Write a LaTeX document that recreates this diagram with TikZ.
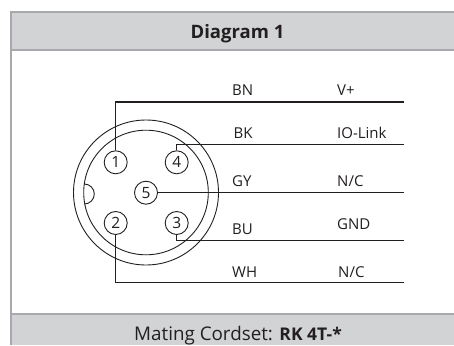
\documentclass[tikz,border=0pt]{standalone}
\usepackage{fontspec}
\setmainfont{Open Sans}
\definecolor{band}{HTML}{D1D3D4}
\definecolor{edge}{HTML}{A7A9AC}
\definecolor{ink}{HTML}{231F20}
\tikzset{
  wire/.style={draw=ink,line width=1.1pt},
  ring/.style={draw=ink,line width=0.9pt},
  pin/.style={circle,draw=ink,line width=0.9pt,minimum size=23pt,inner sep=0pt,fill=none,font=\fontsize{15.5}{15.5}\selectfont,text=ink},
  lab/.style={anchor=base west,inner sep=0pt,font=\fontsize{15}{15}\selectfont,text=ink},
  head/.style={anchor=base,inner sep=0pt,text=ink}
}
\begin{document}
\begin{tikzpicture}[x=1pt,y=-1pt]
\useasboundingbox (0,0) rectangle (454,345);
\fill[white] (0,0) rectangle (454,345);
\fill[band] (10,12) rectangle (454,50);
\fill[band] (10,314) rectangle (454,345);
\draw[edge,line width=2.2pt] (454,12) -- (11,12) -- (11,345);
\draw[edge,line width=2.2pt] (11,50) -- (454,50);
\draw[edge,line width=2.2pt] (11,314) -- (454,314);
\node[head,font=\fontsize{18.5}{18.5}\selectfont\bfseries] (title) at (237.5,38.5) {Diagram 1};
\node[head,font=\fontsize{18.8}{18.8}\selectfont] (foot) at (238,340) {Mating Cordset: {\fontsize{17.5}{17.5}\selectfont\bfseries RK 4T-*}};
\coordinate (cc) at (146,192.5);
\node[circle,ring,minimum size=145pt,inner sep=0pt] (outer) at (cc) {};
\node[circle,ring,minimum size=124.6pt,inner sep=0pt] (inner) at (cc) {};
\draw[ring] (84.3,184) arc[start angle=-90,end angle=90,radius=10,y radius=10];
\node[pin] (p1) at (115.7,162.3) {1};
\node[pin] (p4) at (176.7,162.3) {4};
\node[pin] (p5) at (146,192.7) {5};
\node[pin] (p2) at (115.7,223) {2};
\node[pin] (p3) at (176.7,223) {3};
\coordinate (e1) at (404,102);
\coordinate (e4) at (404,144.3);
\coordinate (e5) at (404,192.7);
\coordinate (e3) at (404,240.3);
\coordinate (e2) at (404,282.7);
\draw[wire] (p1.north) -- (p1.north |- e1) -- (e1);
\draw[wire] (p4.north) -- (p4.north |- e4) -- (e4);
\draw[wire] (p5.east) -- (e5);
\draw[wire] (p3.south) -- (p3.south |- e3) -- (e3);
\draw[wire] (p2.south) -- (p2.south |- e2) -- (e2);
\node[lab] (a1) at (232,95) {BN};
\node[lab] (a2) at (233.5,138.3) {BK};
\node[lab] (a3) at (232,186) {GY};
\node[lab] (a4) at (232,234) {BU};
\node[lab] (a5) at (232,277) {WH};
\node[lab] (b1) at (337,95) {V+};
\node[lab] (b2) at (337,138.3) {IO-Link};
\node[lab] (b3) at (337,186) {N/C};
\node[lab] (b4) at (337,229) {GND};
\node[lab] (b5) at (338,277) {N/C};
\end{tikzpicture}
\end{document}
